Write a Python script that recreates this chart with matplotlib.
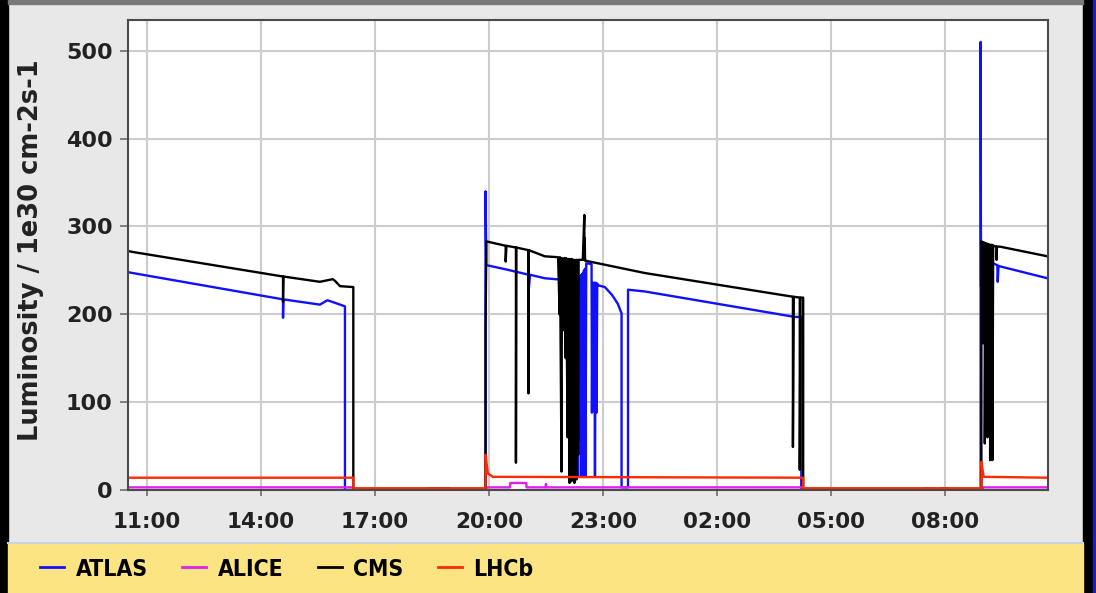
import matplotlib
matplotlib.use("Agg")
import matplotlib.pyplot as plt
from matplotlib.patches import Rectangle
from matplotlib.lines import Line2D

# hours since midnight of the first day (values past 24 are the next morning)
atlas_t = [10.50, 10.62, 14.58, 14.58, 14.59, 15.55, 15.75, 15.95, 16.15, 16.21, 16.21,
           19.91, 19.91, 19.93, 20.46, 21.05, 21.05, 21.08, 21.47, 22.30,
           22.30, 22.32, 22.33, 22.35, 22.36, 22.38, 22.39, 22.41, 22.42, 22.44, 22.45,
           22.47, 22.48, 22.50, 22.51, 22.53, 22.54, 22.56, 22.60, 22.70,
           22.71, 22.73, 22.75, 22.77, 22.79, 22.81, 22.83, 22.85, 22.87,
           23.05, 23.24, 23.39, 23.49, 23.49, 23.66, 23.66, 24.10, 28.05, 28.22, 28.22,
           31.47, 31.47, 31.74, 31.74,
           32.94, 32.94, 32.95, 33.26, 33.38, 33.39, 33.41, 34.70]
atlas_v = [248, 247, 217, 196, 217, 211, 216, 213, 210, 209, 0,
           0, 340, 256, 251, 245, 230, 245, 241, 238,
           57, 240, 15, 241, 60, 243, 57, 244, 15, 245, 57,
           247, 15, 250, 57, 252, 15, 258, 258, 257,
           88, 236, 90, 236, 15, 236, 88, 235, 233,
           231, 222, 212, 201, 3, 3, 228, 226, 197, 197, 0,
           0, 2, 2, 0,
           0, 510, 232, 258, 256, 237, 255, 241]

alice_t = [10.50, 16.43, 16.43, 19.93, 19.93, 20.55, 20.56, 20.98, 20.99,
           21.49, 21.50, 21.51, 28.27, 28.27, 33.00, 33.00, 34.70]
alice_v = [3, 3, 0.5, 0.5, 3, 3, 8, 8, 3,
           3, 7, 3, 3, 0.5, 0.5, 3, 3]

cms_t = [10.50, 10.62, 14.58, 14.58, 14.59, 15.55, 15.89, 15.95, 16.08, 16.43, 16.43,
         18.39, 18.39, 18.97, 18.97,
         19.91, 19.91, 19.93, 20.44, 20.44, 20.46, 20.71, 20.71, 20.72,
         21.04, 21.04, 21.05, 21.47, 21.82,
         21.86, 21.87, 21.91, 21.92, 21.97, 21.98, 22.02, 22.03, 22.07, 22.08,
         22.12, 22.13, 22.17, 22.18, 22.21, 22.22, 22.25, 22.26, 22.30, 22.31,
         22.35, 22.36, 22.47, 22.51, 22.51, 22.52, 22.53, 22.54, 24.10,
         27.13, 28.00, 28.00, 28.02, 28.18, 28.18, 28.20, 28.27, 28.27,
         31.87, 31.87, 32.08, 32.08,
         32.96, 32.96, 33.00, 33.00, 33.02, 33.05, 33.05, 33.07, 33.12, 33.12,
         33.14, 33.19, 33.19, 33.21, 33.25, 33.25, 33.27, 33.36, 33.36, 33.37,
         33.45, 34.70]
cms_v = [272, 271, 243, 214, 243, 237, 240, 238, 232, 231, 0,
         0, 2, 2, 0,
         0, 182, 283, 278, 260, 278, 276, 31, 276,
         273, 110, 273, 266, 265,
         200, 265, 21, 264, 182, 264, 150, 264, 60, 263,
         8, 263, 10, 263, 57, 262, 8, 262, 12, 262,
         40, 262, 262, 313, 262, 287, 261, 261, 247,
         226, 220, 49, 220, 219, 23, 219, 219, 0,
         0, 2, 2, 0,
         0, 283, 282, 167, 282, 281, 53, 281, 280, 60,
         280, 279, 34, 279, 279, 34, 278, 277, 262, 277,
         277, 266]

lhcb_t = [10.50, 16.43, 16.43, 19.91, 19.91, 19.97, 20.10, 28.27, 28.27,
          32.96, 32.96, 33.02, 34.70]
lhcb_v = [14, 14, 2, 2, 40, 19, 15, 14, 2,
          2, 32, 15, 14]

tick_hours = [11, 14, 17, 20, 23, 26, 29, 32]
tick_labels = ["11:00", "14:00", "17:00", "20:00", "23:00", "02:00", "05:00", "08:00"]
y_ticks = [0, 100, 200, 300, 400, 500]

W, H = 1096, 593
fig = plt.figure(figsize=(W / 100, H / 100), dpi=100)
fig.patch.set_facecolor("#e8e8e8")

# window frame and legend band
fig.add_artist(Rectangle((0, 0), 8 / W, 1, transform=fig.transFigure, color="black", zorder=0))
fig.add_artist(Rectangle((1083 / W, 0), 13 / W, 1, transform=fig.transFigure, color="black", zorder=0))
fig.add_artist(Rectangle((1093 / W, 0), 3 / W, 1, transform=fig.transFigure, color="#2020c0", zorder=0))
fig.add_artist(Rectangle((8 / W, 1 - 4 / H), 1075 / W, 4 / H, transform=fig.transFigure, color="#7a7a7a", zorder=0))
fig.add_artist(Rectangle((8 / W, 0), 1075 / W, 50 / H, transform=fig.transFigure, color="#fde482", zorder=0))
fig.add_artist(Line2D([8 / W, 1083 / W], [50 / H, 50 / H], transform=fig.transFigure, color="#c8d4e0", lw=1.5))

ax = fig.add_axes([128 / W, 103 / H, 919.5 / W, 470 / H])
ax.set_facecolor("white")

lw = 1.7
ax.plot(atlas_t, atlas_v, color="#1010ff", lw=lw, label="ATLAS")
ax.plot(alice_t, alice_v, color="#e020f0", lw=lw, label="ALICE")
ax.plot(cms_t, cms_v, color="black", lw=lw, label="CMS")
ax.plot(lhcb_t, lhcb_v, color="#ff2a00", lw=lw, label="LHCb")

ax.set_xlim(10.5, 34.70)
ax.set_ylim(0, 535)
ax.set_xticks(tick_hours)
ax.set_xticklabels(tick_labels)
ax.set_yticks(y_ticks)
ax.grid(True, color="#cccccc", lw=1.5)
ax.set_axisbelow(True)
for sp in ax.spines.values():
    sp.set_color("#4a4a4a")
    sp.set_linewidth(1.5)

ax.tick_params(axis="both", direction="out", color="#777777", width=1.3, labelcolor="#222222")
ax.tick_params(axis="y", length=6, pad=5)
ax.tick_params(axis="x", length=4, pad=12)
for lab in ax.get_yticklabels():
    lab.set_fontsize(16)
    lab.set_fontweight("bold")
for lab in ax.get_xticklabels():
    lab.set_fontsize(15.5)
    lab.set_fontweight("bold")

ax.set_ylabel("Luminosity / 1e30 cm-2s-1", fontsize=18.5, fontweight="bold", color="#222222")
ax.yaxis.set_label_coords(-0.091, 0.51)

handles, labels = ax.get_legend_handles_labels()
leg = fig.legend(handles, labels, loc="center left", bbox_to_anchor=(40 / W, 24 / H),
                 ncol=4, frameon=False, borderpad=0, borderaxespad=0,
                 handlelength=1.05, handletextpad=0.5, columnspacing=1.5,
                 prop={"family": ["DejaVu Sans"], "stretch": "condensed",
                       "weight": "bold", "size": 16.5})
for h in leg.legend_handles:
    h.set_linewidth(2)

fig.savefig("out.png", dpi=100, facecolor=fig.get_facecolor())
